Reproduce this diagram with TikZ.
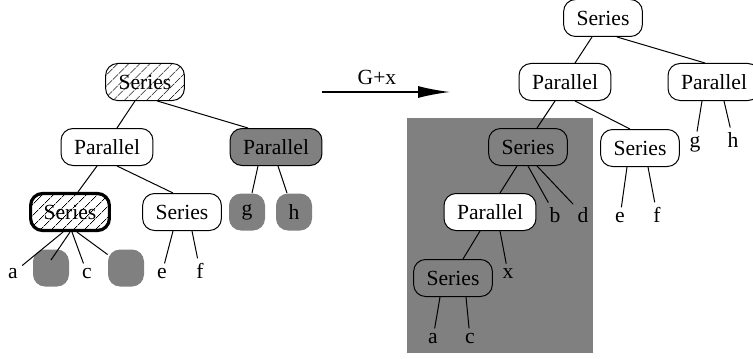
\documentclass[tikz,border=0pt]{standalone}
\usepackage{fontspec}
\setmainfont{Liberation Serif}
\usetikzlibrary{arrows.meta,patterns.meta}

\begin{document}
\begin{tikzpicture}[x=0.5pt,y=-0.5pt,
    every node/.style={font=\fontsize{10.8}{13}\selectfont},
    op/.style={draw,rounded corners=6pt,minimum height=18.5pt,inner xsep=6.5pt,line width=0.5pt},
    hatched/.style={pattern={Lines[angle=45,distance=4pt,line width=0.4pt]}},
    dark/.style={fill=gray},
    blob/.style={fill=gray,rounded corners=6pt,minimum width=18pt,minimum height=18.5pt,inner sep=0pt},
    leaf/.style={anchor=base,inner sep=2pt},
    every edge/.style={draw,line width=0.5pt}]
    \useasboundingbox (0,0) rectangle (753,358);
    \clip (0,0) rectangle (753,358);

    % before
    \node[op,hatched] (S0) at (145,82) {Series};
    \node[op] (P1) at (107,147) {Parallel};
    \node[op,dark] (P2) at (276,147) {Parallel};
    \node[op,hatched,line width=1.6pt] (S1) at (70,212) {Series};
    \node[op] (S2) at (182,212) {Series};
    \node[blob] (g) at (247,212) {g};
    \node[blob] (h) [right of=g, node distance=23.5pt] {h};
    \node[leaf] (a) at (13,278) {a};
    \node[blob] (B1) at (51,268) {};
    \node[leaf] (c) at (87,278) {c};
    \node[blob] (B2) at (126,268) {};
    \node[leaf] (e) at (162,278) {e};
    \node[leaf] (f) at (200,278) {f};

    \path ([xshift=-5pt]S0.south) edge ([xshift=5pt]P1.north)
          ([xshift=6pt]S0.south) edge ([xshift=-14pt]P2.north)
          ([xshift=-5pt]P1.south) edge ([xshift=4pt]S1.north)
          ([xshift=5pt]P1.south) edge ([xshift=-4.5pt]S2.north)
          ([xshift=-9pt]P2.south) edge ([xshift=2.5pt]g.north)
          ([xshift=1pt]P2.south) edge ([xshift=-3.5pt]h.north)
          ([xshift=-3.5pt]S1.south) edge (a)
          (S1.south) edge ([yshift=4pt]B1.center)
          ([xshift=1pt]S1.south) edge (c)
          ([xshift=3.5pt]S1.south) edge (B2)
          ([xshift=-4.5pt]S2.south) edge (e)
          ([xshift=5pt]S2.south) edge (f);

    % the step
    \node (Gx) at (377,77) {G+x};
    \coordinate (arrS) at (322,92);
    \coordinate (arrE) at (450,92);
    \draw[line width=0.8pt,-{Latex[length=16pt,width=6pt]}] (arrS) -- (arrE);

    % after
    \fill[gray] (407,118) rectangle (593,353);
    \node[op] (T) at (603,18) {Series};
    \node[op] (PL) at (565,82) {Parallel};
    \node[op] (PR) at (714,82) {Parallel};
    \node[op,dark] (Sg) at (528,147) {Series};
    \node[op] (SW) at (640,148) {Series};
    \node[leaf] (g2) at (695,147) {g};
    \node[leaf] (h2) at (733,147) {h};
    \node[op,fill=white] (PI) at (490,212) {Parallel};
    \node[leaf] (b2) at (555,222) {b};
    \node[leaf] (d2) at (583,222) {d};
    \node[leaf] (e2) at (620,222) {e};
    \node[leaf] (f2) at (657,222) {f};
    \node[op] (Si) at (453,278) {Series};
    \node[leaf] (x2) at (508,278) {x};
    \node[leaf] (a2) at (433,343) {a};
    \node[leaf] (c2) at (470,343) {c};

    \path ([xshift=-5.5pt]T.south) edge ([xshift=5pt]PL.north)
          ([xshift=7pt]T.south) edge ([xshift=-4.5pt]PR.north)
          ([xshift=-6pt]PR.south) edge (g2)
          ([xshift=5pt]PR.south) edge (h2)
          ([xshift=-5pt]PL.south) edge ([xshift=4.5pt]Sg.north)
          ([xshift=5pt]PL.south) edge ([xshift=-5pt]SW.north)
          ([xshift=-5.5pt]Sg.south) edge ([xshift=5pt]PI.north)
          (Sg.south) edge (b2)
          ([xshift=4.5pt]Sg.south) edge (d2)
          ([xshift=-6.5pt]SW.south) edge (e2)
          ([xshift=4pt]SW.south) edge (f2)
          ([xshift=-5pt]PI.south) edge ([xshift=5pt]Si.north)
          ([xshift=5pt]PI.south) edge (x2)
          ([xshift=-6.5pt]Si.south) edge (a2)
          ([xshift=6.5pt]Si.south) edge (c2);
\end{tikzpicture}
\end{document}
